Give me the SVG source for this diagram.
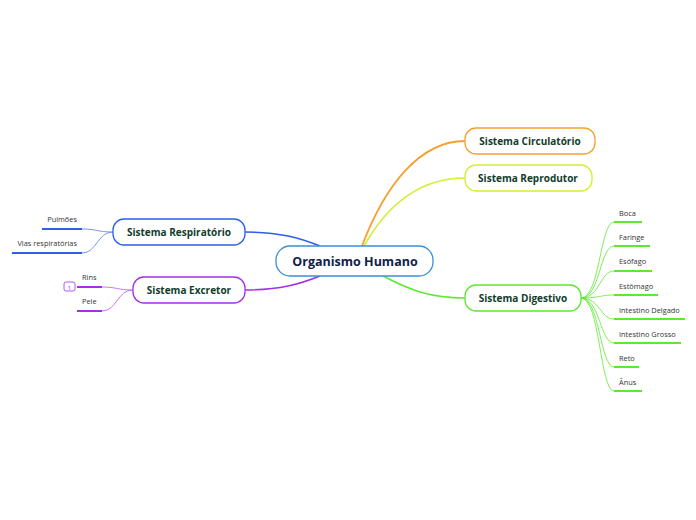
<svg xmlns="http://www.w3.org/2000/svg" width="696" height="520" viewBox="0 0 696 520">
<style>
.main{fill:#fff;stroke-width:1.3}
.t1{font-family:"Open Sans","Noto Sans",sans-serif;font-weight:bold;font-size:12.5px;fill:#10204a}
.t2{font-family:"Open Sans","Noto Sans",sans-serif;font-weight:bold;font-size:10px;fill:#123d2c}
.t3{font-family:"Open Sans","Noto Sans",sans-serif;font-size:7.4px;fill:#333}
.c{fill:none}
</style>
<rect width="696" height="520" fill="#fff"/>
<g id="connectors">
<path class="c" d="M362,246 C385,185 420,141 465,141" stroke="#f7a030" stroke-width="1.8"/>
<path class="c" d="M364,246 C390,200 425,178 465,178" stroke="#d4ee30" stroke-width="1.6"/>
<path class="c" d="M383,276 C410,290 430,298 465,298" stroke="#5ee833" stroke-width="1.5"/>
<path class="c" d="M320,246 C300,238 280,232 245,232" stroke="#2d5fe8" stroke-width="1.5"/>
<path class="c" d="M320,276 C300,284 280,290 245,290" stroke="#a52ee8" stroke-width="1.5"/>
<g stroke="#5ee833" stroke-width="0.8" fill="none">
<path d="M581,298 C600,298 600,222 614,222"/>
<path d="M581,298 C600,298 600,246 614,246"/>
<path d="M581,298 C600,298 600,271 614,271"/>
<path d="M581,298 C600,298 600,295 614,295"/>
<path d="M581,298 C600,298 600,319 614,319"/>
<path d="M581,298 C600,298 600,343 614,343"/>
<path d="M581,298 C600,298 600,367 614,367"/>
<path d="M581,298 C600,298 600,391 614,391"/>
</g>
<g stroke="#5ee833" stroke-width="2">
<line x1="614" y1="222" x2="642" y2="222"/>
<line x1="614" y1="246" x2="650" y2="246"/>
<line x1="614" y1="271" x2="652" y2="271"/>
<line x1="614" y1="295" x2="658" y2="295"/>
<line x1="614" y1="319" x2="685" y2="319"/>
<line x1="614" y1="343" x2="681" y2="343"/>
<line x1="614" y1="367" x2="639" y2="367"/>
<line x1="614" y1="391" x2="642" y2="391"/>
</g>
<g stroke="#2d5fe8" stroke-width="0.8" fill="none" opacity="0.8">
<path d="M113,232 C97,232 97,229 82,229"/>
<path d="M113,232 C97,232 97,253 82,253"/>
</g>
<g stroke="#2d5fe8" stroke-width="2">
<line x1="42" y1="229" x2="82" y2="229"/>
<line x1="12" y1="253" x2="82" y2="253"/>
</g>
<g stroke="#a52ee8" stroke-width="0.8" fill="none" opacity="0.8">
<path d="M133,290 C117,290 117,287 102,287"/>
<path d="M133,290 C117,290 117,311 102,311"/>
</g>
<g stroke="#a52ee8" stroke-width="2">
<line x1="77" y1="287" x2="102" y2="287"/>
<line x1="77" y1="311" x2="102" y2="311"/>
</g>
</g>
<g id="central">
<rect class="main" x="276" y="246" width="157" height="30" rx="14" stroke="#3a8fd6"/>
<text class="t1" x="355" y="266" text-anchor="middle">Organismo Humano</text>
</g>
<g id="circulatorio">
<rect class="main" x="465" y="128" width="130" height="26" rx="11" stroke="#f7a030"/>
<text class="t2" x="530" y="145" text-anchor="middle">Sistema Circulatório</text>
</g>
<g id="reprodutor">
<rect class="main" x="465" y="165" width="127" height="26" rx="11" stroke="#d4ee30"/>
<text class="t2" x="528" y="182" text-anchor="middle">Sistema Reprodutor</text>
</g>
<g id="digestivo">
<rect class="main" x="465" y="285" width="116" height="26" rx="11" stroke="#5ee833"/>
<text class="t2" x="523" y="302" text-anchor="middle">Sistema Digestivo</text>
</g>
<g id="respiratorio">
<rect class="main" x="113" y="219" width="132" height="26" rx="11" stroke="#2d5fe8"/>
<text class="t2" x="179" y="236" text-anchor="middle">Sistema Respiratório</text>
</g>
<g id="excretor">
<rect class="main" x="133" y="277" width="112" height="26" rx="11" stroke="#a52ee8"/>
<text class="t2" x="189" y="294" text-anchor="middle">Sistema Excretor</text>
</g>
<g id="leaves-digestivo">
<text class="t3" x="619" y="216">Boca</text>
<text class="t3" x="619" y="240">Faringe</text>
<text class="t3" x="619" y="264">Esófago</text>
<text class="t3" x="619" y="289">Estômago</text>
<text class="t3" x="619" y="313">Intestino Delgado</text>
<text class="t3" x="619" y="337">Intestino Grosso</text>
<text class="t3" x="619" y="361">Reto</text>
<text class="t3" x="619" y="385">Ânus</text>
</g>
<g id="leaves-respiratorio">
<text class="t3" x="77" y="222" text-anchor="end">Pulmões</text>
<text class="t3" x="77" y="246" text-anchor="end">Vias respiratórias</text>
</g>
<g id="leaves-excretor">
<text class="t3" x="82" y="280">Rins</text>
<text class="t3" x="82" y="304">Pele</text>
<rect x="64" y="282" width="11" height="9" rx="2" fill="#fff" stroke="#a52ee8" stroke-width="0.8"/>
<text x="69.5" y="289.5" text-anchor="middle" style="font-family:'Open Sans',sans-serif;font-size:6px;fill:#a52ee8">1</text>
</g>
</svg>
